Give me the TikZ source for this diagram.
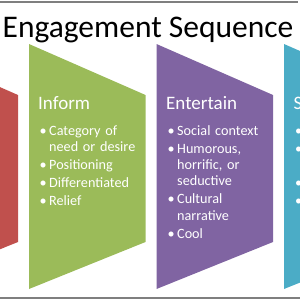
\documentclass[tikz,border=0pt]{standalone}
\usepackage{fontspec}
\setmainfont{Carlito}
\definecolor{seqred}{HTML}{C0504D}
\definecolor{seqgreen}{HTML}{9BBB59}
\definecolor{seqpurple}{HTML}{8064A2}
\definecolor{seqcyan}{HTML}{4BACC6}
\definecolor{framegray}{HTML}{7F7F7F}
% one bullet point, later lines hang under the text
\newcommand\bitem[1]{\hangindent=11pt\hangafter=1\noindent\makebox[11pt][l]{\hspace{1.5pt}\textbullet}#1\par}
\tikzset{
  panel/.style={fill=#1, draw=none},
  head/.style={anchor=base west, inner sep=0pt, text=white, font=\fontsize{19}{22}\selectfont},
  items/.style={anchor=base west, inner sep=0pt, text=white, text width=120pt, align=left,
    font=\fontsize{14.2}{16.2}\selectfont\setlength{\parskip}{1.8pt}\setlength{\parindent}{0pt}}
}

\begin{document}
\begin{tikzpicture}[x=1pt, y=-1pt]
  \useasboundingbox (0,0) rectangle (300,300);
  \clip (0,0) rectangle (300,300);
  % panels: left x = 29 + 127.5 k
  \foreach \k/\c in {-1/seqred, 0/seqgreen, 1/seqpurple, 2/seqcyan} {
    \coordinate (tl) at (29+127.5*\k,44);
    \fill[panel=\c] (tl) -- ++(116.5,51) -- ++(0,147) -- ++(-116.5,47) -- cycle;
  }
  \node[anchor=base, inner sep=0pt, font=\fontsize{31.5}{34}\selectfont] (title) at (148,37) {Engagement Sequence};
  % Inform
  \node[head] (inform) at (38,109) {Inform};
  \node[items] (informlist) at (38,135.5) {%
    \bitem{Category of\newline need or desire}%
    \bitem{Positioning}%
    \bitem{Differentiated}%
    \bitem{Relief}};
  % Entertain
  \node[head] (entertain) at (166,109) {Entertain};
  \node[items] (entertainlist) at (166,135.5) {%
    \bitem{Social context}%
    \bitem{Humorous,\newline horrific, or\newline seductive}%
    \bitem{Cultural\newline narrative}%
    \bitem{Cool}};
  % last panel, cut off at the right edge
  \node[head] (share) at (293.5,109) {Share};
  \node[items] (sharelist) at (293.5,135.5) {%
    \bitem{\strut}%
    \bitem{\strut\newline\strut}%
    \bitem{\strut}%
    \bitem{\strut}};
  % frame lines
  \draw[framegray, line width=1.5pt] (0,2) -- (298,2);
  \draw[framegray, line width=2pt] (0,297.7) -- (300,297.7);
\end{tikzpicture}
\end{document}
